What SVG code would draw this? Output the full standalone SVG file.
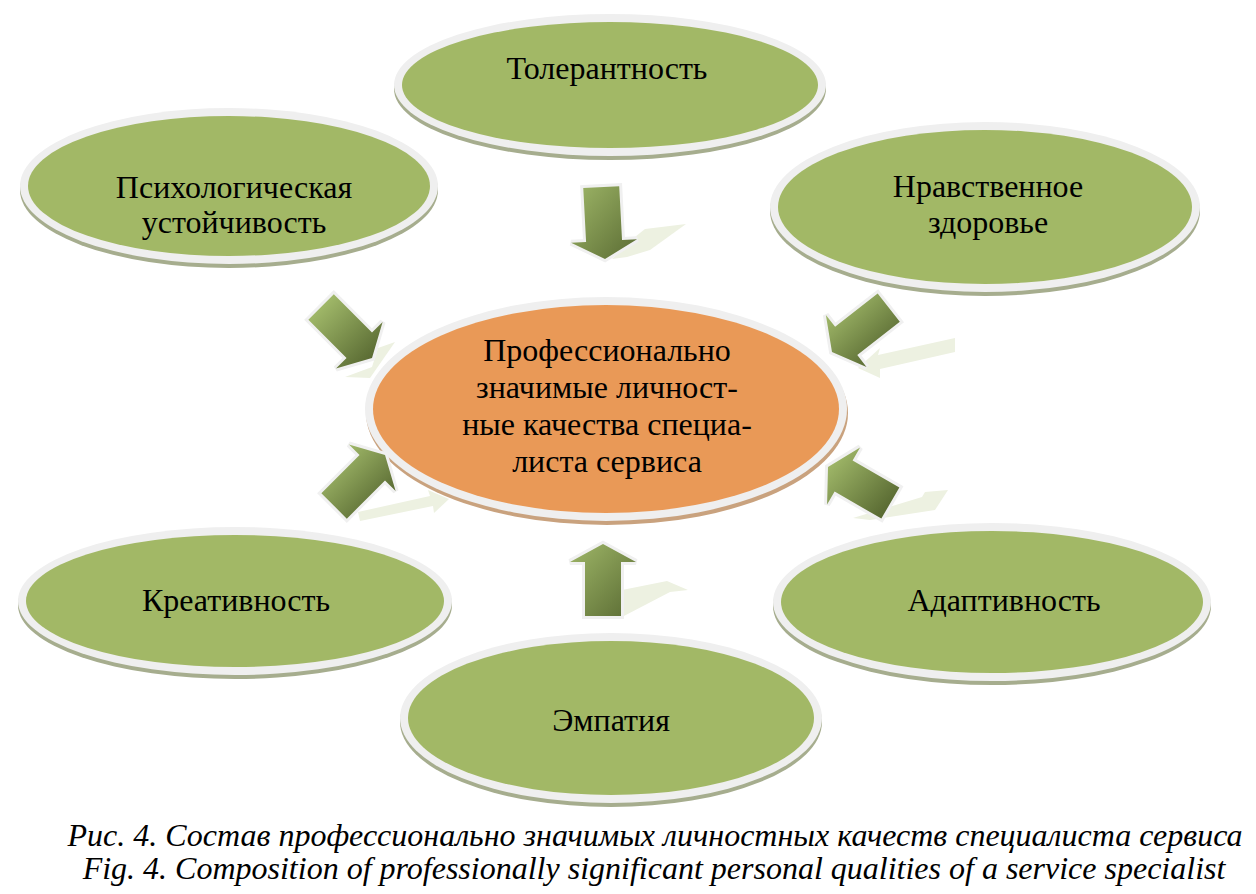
<svg xmlns="http://www.w3.org/2000/svg" width="1256" height="894" viewBox="0 0 1256 894">
<defs>
<style>
.sh{fill:#a6ad8e}
.shc{fill:#c9a27e}
.ring{fill:#efefef}
.g{fill:#a2b866}
.o{fill:#e99957}
.refl{fill:#edf1e1}
.arr{stroke:#f0f0f0;stroke-width:6;stroke-linejoin:miter;paint-order:stroke}
.t{font-family:"Liberation Serif","Times New Roman","DejaVu Serif",serif;font-size:32px;fill:#000;text-anchor:middle}
.cap{font-family:"Liberation Serif","Times New Roman","DejaVu Serif",serif;font-size:32px;font-style:italic;fill:#000;text-anchor:middle}
</style>
<linearGradient id="g1" x1="0" y1="0" x2="1" y2="1"><stop offset="0" stop-color="#9fb768"/><stop offset="1" stop-color="#5a6b33"/></linearGradient>
<linearGradient id="g2" x1="0.5" y1="0" x2="0.5" y2="1"><stop offset="0" stop-color="#9fb768"/><stop offset="1" stop-color="#5a6b33"/></linearGradient>
<linearGradient id="g3" x1="0" y1="0.55" x2="1" y2="0.45"><stop offset="0" stop-color="#9fb768"/><stop offset="1" stop-color="#5a6b33"/></linearGradient>
<linearGradient id="g4" x1="1" y1="0.5" x2="0" y2="0.5"><stop offset="0" stop-color="#9fb768"/><stop offset="1" stop-color="#5a6b33"/></linearGradient>
<linearGradient id="g5" x1="0.4" y1="1" x2="0.6" y2="0"><stop offset="0" stop-color="#9fb768"/><stop offset="1" stop-color="#5a6b33"/></linearGradient>
<linearGradient id="g6" x1="1" y1="1" x2="0" y2="0"><stop offset="0" stop-color="#9fb768"/><stop offset="1" stop-color="#5a6b33"/></linearGradient>
<polygon id="arrow" points="-18,-72 18,-72 18,-18 33,-18 0,0 -33,-18 -18,-18"/>
</defs>
<rect width="1256" height="894" fill="#fff"/>

<g id="reflections">
<polygon class="refl" points="612,259 630,241 645,229 686,224 650,250 627,257"/>
<polygon class="refl" points="345,377 372,367 378,348 395,342 370,378"/>
<polygon class="refl" points="955,338 878,355 880,348 858,368 880,378 880,369 955,352"/>
<polygon class="refl" points="358,512 430,496 428,490 449,499 434,513 433,506 360,521"/>
<polygon class="refl" points="853,518 922,497 925,492 948,490 935,510 870,520"/>
<polygon class="refl" points="622,590 667,581 688,590 670,592 622,617"/>
</g>

<g id="n-tolerance">
<ellipse class="sh" cx="610" cy="89" rx="216" ry="71"/>
<ellipse class="ring" cx="610" cy="85" rx="216" ry="71"/>
<ellipse class="g" cx="610" cy="85" rx="208" ry="63"/>
<text class="t" x="607" y="79">Толерантность</text>
</g>

<g id="n-psych">
<ellipse class="sh" cx="229" cy="190" rx="209" ry="78"/>
<ellipse class="ring" cx="229" cy="186" rx="209" ry="78"/>
<ellipse class="g" cx="229" cy="186" rx="201" ry="70"/>
<text class="t" x="234" y="198">Психологическая</text>
<text class="t" x="234" y="233">устойчивость</text>
</g>

<g id="n-moral">
<ellipse class="sh" cx="985" cy="211" rx="215" ry="85"/>
<ellipse class="ring" cx="985" cy="207" rx="215" ry="85"/>
<ellipse class="g" cx="985" cy="207" rx="207" ry="77"/>
<text class="t" x="988" y="197">Нравственное</text>
<text class="t" x="988" y="233">здоровье</text>
</g>

<g id="n-creative">
<ellipse class="sh" cx="235" cy="605" rx="217" ry="74"/>
<ellipse class="ring" cx="235" cy="601" rx="217" ry="74"/>
<ellipse class="g" cx="235" cy="601" rx="209" ry="66"/>
<text class="t" x="236" y="611">Креативность</text>
</g>

<g id="n-adapt">
<ellipse class="sh" cx="992" cy="606" rx="219" ry="79"/>
<ellipse class="ring" cx="992" cy="602" rx="219" ry="79"/>
<ellipse class="g" cx="992" cy="602" rx="211" ry="71"/>
<text class="t" x="1004" y="611">Адаптивность</text>
</g>

<g id="n-empathy">
<ellipse class="sh" cx="611" cy="722" rx="211" ry="85"/>
<ellipse class="ring" cx="611" cy="718" rx="211" ry="85"/>
<ellipse class="g" cx="611" cy="718" rx="203" ry="77"/>
<text class="t" x="611" y="731">Эмпатия</text>
</g>

<g id="n-center">
<ellipse class="shc" cx="607" cy="413" rx="241" ry="112"/>
<ellipse class="ring" cx="606" cy="409" rx="241" ry="112"/>
<ellipse class="o" cx="606" cy="409" rx="233" ry="104"/>
<text class="t" x="607" y="361">Профессионально</text>
<text class="t" x="607" y="398">значимые личност-</text>
<text class="t" x="607" y="435">ные качества специа-</text>
<text class="t" x="607" y="472">листа сервиса</text>
</g>

<g id="connectors">
<use href="#arrow" class="arr" fill="url(#g1)" transform="translate(605,259) rotate(-3)"/>
<use href="#arrow" class="arr" fill="url(#g2)" transform="translate(372,358) rotate(-45)"/>
<use href="#arrow" class="arr" fill="url(#g3)" transform="translate(832,352) rotate(52)"/>
<use href="#arrow" class="arr" fill="url(#g4)" transform="translate(385,455) rotate(-135)"/>
<use href="#arrow" class="arr" fill="url(#g5)" transform="translate(828,467) rotate(120)"/>
<use href="#arrow" class="arr" fill="url(#g6)" transform="translate(603,544) rotate(180)"/>
</g>

<g id="caption">
<text class="cap" x="655" y="846">Рис. 4. Состав профессионально значимых личностных качеств специалиста сервиса</text>
<text class="cap" x="654" y="879">Fig. 4. Composition of professionally significant personal qualities of a service specialist</text>
</g>
</svg>
